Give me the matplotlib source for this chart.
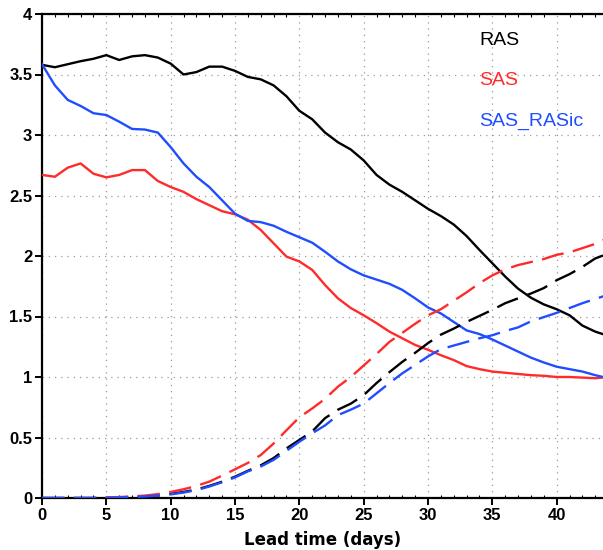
import matplotlib
matplotlib.use("Agg")
import matplotlib.pyplot as plt
from matplotlib.ticker import MultipleLocator

days = list(range(0, 45))

ras_solid = [3.58, 3.56, 3.585, 3.61, 3.63, 3.66, 3.62, 3.65, 3.66, 3.64,
             3.59, 3.50, 3.52, 3.565, 3.565, 3.53, 3.48, 3.46, 3.41, 3.32,
             3.20, 3.13, 3.02, 2.94, 2.88, 2.79, 2.67, 2.59, 2.53, 2.46,
             2.39, 2.33, 2.26, 2.165, 2.05, 1.94, 1.83, 1.73, 1.655, 1.60,
             1.56, 1.51, 1.425, 1.375, 1.34]
sas_solid = [2.67, 2.655, 2.73, 2.765, 2.68, 2.65, 2.67, 2.71, 2.71, 2.62,
             2.57, 2.53, 2.47, 2.42, 2.37, 2.345, 2.30, 2.215, 2.105, 1.995,
             1.955, 1.885, 1.76, 1.65, 1.57, 1.51, 1.445, 1.375, 1.32, 1.265,
             1.225, 1.18, 1.14, 1.09, 1.065, 1.045, 1.035, 1.025, 1.015, 1.01,
             1.00, 1.00, 0.995, 0.99, 1.00]
sasras_solid = [3.585, 3.41, 3.29, 3.24, 3.18, 3.165, 3.11, 3.05, 3.045, 3.02,
                2.90, 2.765, 2.655, 2.57, 2.46, 2.35, 2.29, 2.28, 2.25, 2.20,
                2.155, 2.11, 2.035, 1.955, 1.89, 1.84, 1.805, 1.77, 1.72, 1.65,
                1.575, 1.525, 1.455, 1.385, 1.355, 1.31, 1.26, 1.21, 1.16, 1.12,
                1.085, 1.065, 1.045, 1.015, 0.99]

ras_dash = [0, 0, 0, 0, 0, 0.002, 0.005, 0.009, 0.014, 0.022,
            0.035, 0.05, 0.07, 0.10, 0.135, 0.176, 0.225, 0.27, 0.33, 0.41,
            0.48, 0.55, 0.66, 0.73, 0.78, 0.85, 0.95, 1.04, 1.125, 1.20,
            1.28, 1.35, 1.40, 1.455, 1.505, 1.555, 1.61, 1.65, 1.69, 1.735,
            1.80, 1.85, 1.91, 1.98, 2.02]
sas_dash = [0, 0, 0, 0, 0, 0.004, 0.008, 0.013, 0.02, 0.032,
            0.05, 0.072, 0.10, 0.135, 0.185, 0.237, 0.29, 0.355, 0.45, 0.56,
            0.667, 0.74, 0.82, 0.92, 1.00, 1.095, 1.19, 1.29, 1.365, 1.44,
            1.51, 1.56, 1.63, 1.70, 1.775, 1.84, 1.89, 1.925, 1.95, 1.975,
            2.01, 2.03, 2.065, 2.10, 2.15]
sasras_dash = [0, 0, 0, 0, 0, 0.002, 0.005, 0.008, 0.013, 0.02,
               0.03, 0.045, 0.065, 0.095, 0.13, 0.17, 0.22, 0.26, 0.315, 0.39,
               0.465, 0.535, 0.60, 0.685, 0.73, 0.78, 0.865, 0.95, 1.03, 1.10,
               1.17, 1.23, 1.26, 1.29, 1.32, 1.345, 1.38, 1.41, 1.46, 1.495,
               1.53, 1.57, 1.61, 1.645, 1.68]

labels = ["RAS", "SAS", "SAS_RASic"]
colors = ["#000000", "#ff2b2b", "#1f4dff"]
xticks = [0, 5, 10, 15, 20, 25, 30, 35, 40]
yticks = [0, 0.5, 1, 1.5, 2, 2.5, 3, 3.5, 4]
ytick_labels = ["0", "0.5", "1", "1.5", "2", "2.5", "3", "3.5", "4"]

fig = plt.figure(figsize=(6.03, 5.5), dpi=100)
ax = fig.add_axes([42 / 603, 52 / 550, 1 - 42 / 603, 484 / 550])

solids = [ras_solid, sas_solid, sasras_solid]
dashes = [ras_dash, sas_dash, sasras_dash]
for s, c in zip(solids, colors):
    ax.plot(days, s, color=c, lw=1.7, solid_joinstyle="round", zorder=3)
for s, c in zip(dashes, colors):
    ax.plot(days, s, color=c, lw=1.7, dashes=(9.5, 4), zorder=3)

ax.set_xlim(0, 43.6)
ax.set_ylim(0, 4)
ax.set_xticks(xticks)
ax.set_yticks(yticks)
ax.set_yticklabels(ytick_labels)
ax.xaxis.set_minor_locator(MultipleLocator(1))

ax.grid(True, which="major", color="#9a9a9a", linestyle=(0, (1, 4)), lw=0.9)
ax.spines["right"].set_visible(False)
for sp in ["left", "bottom", "top"]:
    ax.spines[sp].set_linewidth(1.6)
ax.tick_params(axis="both", which="major", direction="out", length=5, width=1.4,
               labelsize=12, pad=2, top=False, right=False)
ax.tick_params(axis="x", which="minor", direction="in", length=2.5, width=0.8,
               top=True, bottom=True)
for lab in ax.get_xticklabels() + ax.get_yticklabels():
    lab.set_fontfamily("Liberation Sans")
    lab.set_fontweight("bold")

ax.set_xlabel("Lead time (days)", fontsize=12, fontfamily="DejaVu Sans",
              fontweight="bold", labelpad=6)

ys = [3.74, 3.41, 3.08]
for lab, c, y in zip(labels, colors, ys):
    ax.text(34.0, y, lab, color=c, fontsize=14, fontfamily="Liberation Sans",
            va="baseline", ha="left")

fig.savefig("out.png", dpi=100)
